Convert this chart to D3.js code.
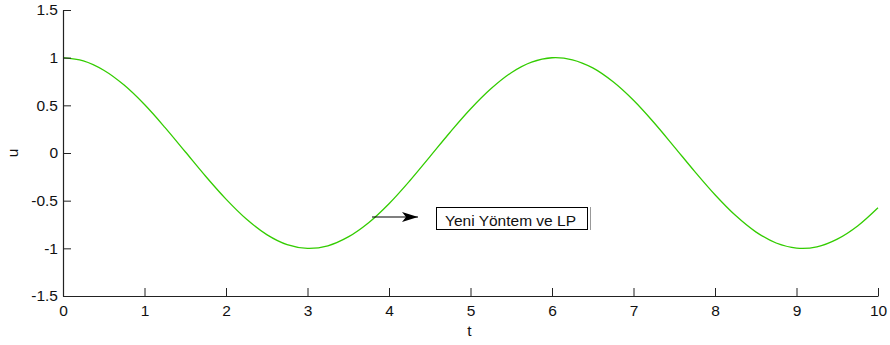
<!DOCTYPE html>
<html><head><meta charset="utf-8">
<script src="https://cdn.jsdelivr.net/npm/d3@7"></script>
<style>body{margin:0;background:#fff}svg{display:block}text{font-family:"Liberation Sans",Arial,sans-serif}</style>
</head><body>
<svg id="c" width="890" height="345"></svg>
<script>
const tValues = [0,0.25,0.5,0.75,1,1.25,1.5,1.75,2,2.25,2.5,2.75,3,3.25,3.5,3.75,4,4.25,4.5,4.75,5,5.25,5.5,5.75,6,6.25,6.5,6.75,7,7.25,7.5,7.75,8,8.25,8.5,8.75,9,9.25,9.5,9.75,10];
const uValues = [1.00,0.966,0.868,0.712,0.508,0.269,0.013,-0.244,-0.484,-0.693,-0.856,-0.961,-1.00,-0.973,-0.880,-0.731,-0.532,-0.296,-0.040,0.218,0.461,0.673,0.842,0.953,0.999,0.978,0.893,0.747,0.553,0.320,0.065,-0.193,-0.438,-0.654,-0.827,-0.944,-0.997,-0.984,-0.903,-0.765,-0.574];
const xTicks = [0,1,2,3,4,5,6,7,8,9,10];
const yTicks = [-1.5,-1,-0.5,0,0.5,1,1.5];
const annotationText = "Yeni Yöntem ve LP";

const svg = d3.select("#c");
const x = d3.scaleLinear().domain([0,10]).range([63,878]);
const y = d3.scaleLinear().domain([-1.5,1.5]).range([296,10]);
const axisColor = "#222";
const fs = 15.5;

// curve
const line = d3.line().x((d,i)=>x(tValues[i])).y(d=>y(d)).curve(d3.curveCatmullRom);
svg.append("path").datum(uValues).attr("d",line).attr("fill","none")
  .attr("stroke","#33cc00").attr("stroke-width",1.3);

// axes (MATLAB style: inward ticks, no box)
const xAxis = d3.axisBottom(x).tickValues(xTicks).tickSizeInner(-8).tickSizeOuter(0).tickFormat(d3.format("d"));
const gx = svg.append("g").attr("transform","translate(0,296)").call(xAxis);
const yAxis = d3.axisLeft(y).tickValues(yTicks).tickSizeInner(-8).tickSizeOuter(0).tickFormat(d=>String(d));
const gy = svg.append("g").attr("transform","translate(63,0)").call(yAxis);
[gx,gy].forEach(g=>{
  g.attr("font-size",fs).attr("font-family","'Liberation Sans',Arial,sans-serif");
  g.select(".domain").attr("stroke",axisColor).attr("stroke-width",1.2);
  g.selectAll(".tick line").attr("stroke",axisColor).attr("stroke-width",1);
  g.selectAll(".tick text").attr("fill","#111");
});
gx.selectAll(".tick text").attr("dy",null).attr("y",20);
gy.selectAll(".tick text").attr("x",-5);

// axis labels
svg.append("text").attr("x",x(5)-1).attr("y",336).attr("text-anchor","middle")
  .attr("font-size",fs).attr("fill","#111").text("t");
svg.append("text").attr("transform",`translate(18,${y(0)}) rotate(-90)`).attr("text-anchor","middle")
  .attr("font-size",fs).attr("fill","#111").text("u");

// annotation arrow
const defs = svg.append("defs");
defs.append("marker").attr("id","ah").attr("viewBox","0 0 16 10").attr("refX",16).attr("refY",5)
  .attr("markerWidth",16).attr("markerHeight",10).attr("markerUnits","userSpaceOnUse").attr("orient","auto")
  .append("path").attr("d","M0,0 L16,5 L0,10 L4,5 Z").attr("fill","#000");
const ay = 217;
svg.append("line").attr("x1",372).attr("y1",ay).attr("x2",418).attr("y2",ay)
  .attr("stroke","#000").attr("stroke-width",1.2).attr("marker-end","url(#ah)");
svg.append("rect").attr("x",436.5).attr("y",207.5).attr("width",151).attr("height",22)
  .attr("fill","#fff").attr("stroke","#000").attr("stroke-width",1);
svg.append("line").attr("x1",590.5).attr("y1",207).attr("x2",590.5).attr("y2",230)
  .attr("stroke","#999").attr("stroke-width",1);
svg.append("text").attr("x",445).attr("y",225.5).attr("font-size",fs).attr("fill","#111").text(annotationText);
</script>
</body></html>
